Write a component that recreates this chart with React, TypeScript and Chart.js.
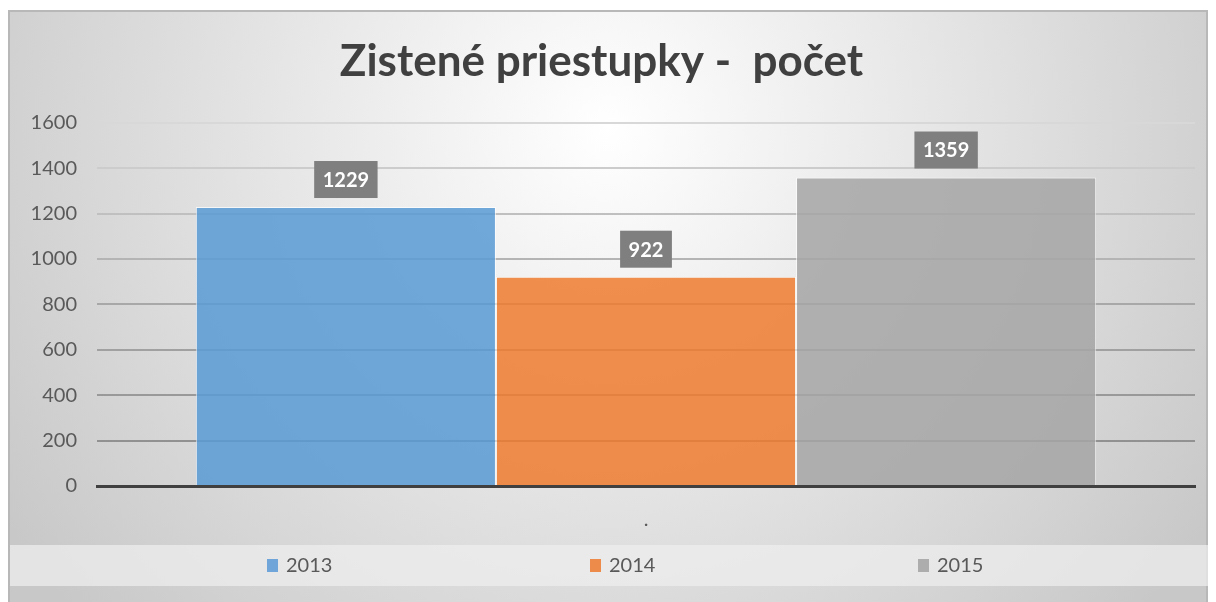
import React, { useEffect, useRef } from "react";
import { Chart, registerables } from "chart.js";

Chart.register(...registerables);

const titleText = "Zistené priestupky -  počet";
const categories = ["."];
const seriesNames = ["2013", "2014", "2015"];
const values2013 = [1229];
const values2014 = [922];
const values2015 = [1359];
const seriesFill = ["rgba(91,155,213,0.86)", "rgba(237,125,49,0.86)", "rgba(165,165,165,0.86)"];
const legendSwatch = ["#6fa5d8", "#ed8c4a", "#adadad"];
const yMin = 0;
const yMax = 1600;
const yStep = 200;

const W = 1200;
const H = 592;
const FONT = "Lato, 'Open Sans', sans-serif";

const backgroundPlugin = {
  id: "bgPlugin",
  beforeDraw(chart: any) {
    const { ctx, width, height } = chart;
    ctx.save();
    const g = ctx.createRadialGradient(width * 0.5, height * 0.2, 0, width * 0.5, height * 0.2, width * 0.6);
    g.addColorStop(0, "#ffffff");
    g.addColorStop(1, "#c8c8c8");
    ctx.fillStyle = g;
    ctx.fillRect(0, 0, width, height);
    ctx.strokeStyle = "#b8b8b8";
    ctx.lineWidth = 2;
    ctx.strokeRect(1, 1, width - 2, height + 4);
    // legend band
    ctx.fillStyle = "rgba(238,238,238,0.72)";
    ctx.fillRect(2, 535, width - 2, 41);
    ctx.restore();
  },
};

const legendPlugin = {
  id: "legendBand",
  afterDraw(chart: any) {
    const { ctx } = chart;
    const starts = [259, 582, 910];
    ctx.save();
    ctx.font = `20px ${FONT}`;
    ctx.textBaseline = "middle";
    ctx.textAlign = "left";
    chart.data.datasets.forEach((ds: any, i: number) => {
      const x = starts[i];
      const y = 555;
      ctx.fillStyle = legendSwatch[i];
      ctx.fillRect(x, y - 6, 11, 13);
      ctx.fillStyle = "#595959";
      ctx.fillText(ds.label, x + 19, y + 1);
    });
    ctx.restore();
  },
};

const dataLabelPlugin = {
  id: "boxLabels",
  afterDatasetsDraw(chart: any) {
    const { ctx } = chart;
    ctx.save();
    ctx.font = `bold 20px ${FONT}`;
    ctx.textAlign = "center";
    ctx.textBaseline = "middle";
    chart.data.datasets.forEach((ds: any, i: number) => {
      const meta = chart.getDatasetMeta(i);
      meta.data.forEach((el: any, j: number) => {
        const txt = String(ds.data[j]);
        const tw = ctx.measureText(txt).width;
        const bw = tw + 17;
        const bh = 37;
        const bx = el.x - bw / 2;
        const by = el.y - 9 - bh;
        ctx.fillStyle = "#7f7f7f";
        ctx.fillRect(bx, by, bw, bh);
        ctx.fillStyle = "#ffffff";
        ctx.fillText(txt, el.x, by + bh / 2 + 1);
      });
    });
    ctx.restore();
  },
};

export default function App() {
  const ref = useRef<HTMLCanvasElement | null>(null);
  useEffect(() => {
    if (!ref.current) return;
    const chart = new Chart(ref.current, {
      type: "bar",
      data: {
        labels: categories,
        datasets: [
          { label: seriesNames[0], data: values2013, backgroundColor: seriesFill[0] },
          { label: seriesNames[1], data: values2014, backgroundColor: seriesFill[1] },
          { label: seriesNames[2], data: values2015, backgroundColor: seriesFill[2] },
        ].map((d) => ({ ...d, borderColor: "rgba(255,255,255,0.7)", borderWidth: 1, categoryPercentage: 0.82, barPercentage: 1 })),
      },
      options: {
        responsive: false,
        animation: false,
        layout: { padding: { left: 0, right: 13, top: 0, bottom: 0 } },
        plugins: {
          legend: { display: false },
          tooltip: { enabled: false },
          title: {
            display: true,
            text: titleText,
            color: "#404040",
            font: { family: FONT, size: 44, weight: "bold" },
            padding: { top: 25, bottom: 35 },
          },
        },
        scales: {
          x: {
            grid: { display: false, drawTicks: false },
            border: { display: true, color: "#404040", width: 3 },
            ticks: { color: "#595959", font: { family: FONT, size: 20 }, padding: 22 },
            afterFit(scale: any) {
              scale.height = 116;
            },
          },
          y: {
            min: yMin,
            max: yMax,
            grid: {
              drawTicks: false,
              lineWidth: 2,
              color(ctx: any) {
                const ca = ctx.chart.chartArea;
                if (!ca) return "#aaaaaa";
                const g = ctx.chart.ctx.createLinearGradient(0, ca.top, 0, ca.bottom);
                g.addColorStop(0, "#d8d8d8");
                g.addColorStop(0.5, "#a8a8a8");
                g.addColorStop(1, "#8a8a8a");
                return g;
              },
            },
            border: { display: false },
            ticks: {
              stepSize: yStep,
              color: "#595959",
              font: { family: FONT, size: 20 },
              padding: 20,
              callback: (v: any) => String(v),
            },
            afterFit(scale: any) {
              scale.width = 89;
            },
          },
        },
      },
      plugins: [backgroundPlugin, dataLabelPlugin, legendPlugin],
    });
    return () => chart.destroy();
  }, []);
  return (
    <div style={{ position: "absolute", left: 8, top: 10, width: W, height: H }}>
      <canvas ref={ref} width={W} height={H} style={{ width: W, height: H, display: "block" }} />
    </div>
  );
}
